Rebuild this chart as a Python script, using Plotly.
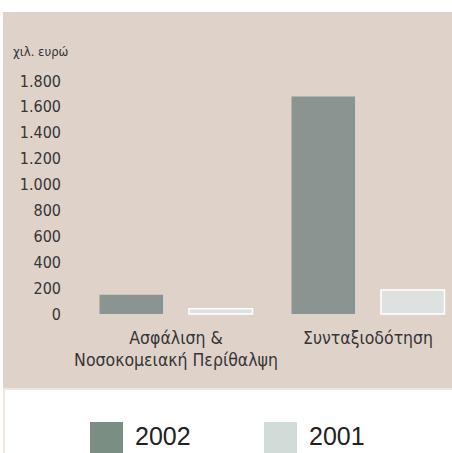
import plotly.graph_objects as go

# ---- data ----
categories = ["Ασφάλιση &<br>Νοσοκομειακή Περίθαλψη", "Συνταξιοδότηση"]
series_names = ["2002", "2001"]
values_2002 = [150, 1680]
values_2001 = [40, 185]
tick_values = [0, 200, 400, 600, 800, 1000, 1200, 1400, 1600, 1800]
tick_labels = ["0", "200", "400", "600", "800", "1.000", "1.200", "1.400", "1.600", "1.800"]
unit_label = "χιλ. ευρώ"

# ---- layout constants ----
WIDTH, HEIGHT = 452, 453
L, R, T = 66, 0, 68
PH = 259
B = HEIGHT - T - PH
PW = WIDTH - L - R

BG = "#dfd2c9"
C2002 = "#8a9490"
C2001 = "#dde1e0"
LEG2002 = "#7a8e84"
LEG2001 = "#d1dcd9"
TXT = "#363636"
FONT = "DejaVu Sans Condensed, DejaVu Sans, sans-serif"


def px_x(p):
    return (p - L) / PW


def px_y(p):
    return (T + PH - p) / PH


fig = go.Figure()
fig.add_trace(go.Bar(x=[0, 1], y=values_2002, name=series_names[0],
                     marker=dict(color=C2002, line=dict(width=0))))
fig.add_trace(go.Bar(x=[0, 1], y=values_2001, name=series_names[1],
                     marker=dict(color=C2001, line=dict(color="white", width=1.5))))

x0 = -(176 - L) / 192
x1 = x0 + PW / 192

shapes = [
    dict(type="rect", xref="paper", yref="paper", x0=px_x(3), x1=px_x(453),
         y0=px_y(388), y1=px_y(12), fillcolor=BG, line=dict(width=0), layer="below"),
    dict(type="rect", xref="paper", yref="paper", x0=px_x(3), x1=px_x(453),
         y0=px_y(390), y1=px_y(388), fillcolor="#efe6e0", line=dict(width=0), layer="below"),
    dict(type="rect", xref="paper", yref="paper", x0=px_x(3), x1=px_x(5),
         y0=px_y(454), y1=px_y(388), fillcolor="#efe6e0", line=dict(width=0), layer="below"),
    dict(type="rect", xref="paper", yref="paper", x0=px_x(90), x1=px_x(123),
         y0=px_y(456), y1=px_y(422), fillcolor=LEG2002, line=dict(width=0)),
    dict(type="rect", xref="paper", yref="paper", x0=px_x(264), x1=px_x(297),
         y0=px_y(456), y1=px_y(422), fillcolor=LEG2001, line=dict(width=0)),
]

annotations = [
    dict(text=unit_label, xref="paper", yref="paper", x=px_x(11), y=px_y(52),
         xanchor="left", yanchor="middle", align="left", showarrow=False,
         font=dict(family=FONT, size=13, color=TXT)),
    dict(text=series_names[0], xref="paper", yref="paper", x=px_x(133), y=px_y(436),
         xanchor="left", yanchor="middle", align="left", showarrow=False,
         font=dict(family="Liberation Sans, Arial, sans-serif", size=25, color="#222222")),
    dict(text=series_names[1], xref="paper", yref="paper", x=px_x(307), y=px_y(436),
         xanchor="left", yanchor="middle", align="left", showarrow=False,
         font=dict(family="Liberation Sans, Arial, sans-serif", size=25, color="#222222")),
]

fig.update_layout(
    width=WIDTH, height=HEIGHT,
    margin=dict(l=L, r=R, t=T, b=B, pad=0),
    paper_bgcolor="white", plot_bgcolor="rgba(0,0,0,0)",
    barmode="group", bargap=0.068, bargroupgap=0.29,
    showlegend=False,
    shapes=shapes, annotations=annotations,
    xaxis=dict(range=[x0, x1], tickvals=[0, 1], ticktext=categories,
               showgrid=False, zeroline=False, showline=False, ticks="",
               ticklabelstandoff=-2,
               tickfont=dict(family=FONT, size=17.5, color=TXT)),
    yaxis=dict(range=[-100, 1900], tickvals=tick_values, ticktext=tick_labels,
               showgrid=False, zeroline=False, showline=False, ticks="",
               ticklabelstandoff=4,
               tickfont=dict(family=FONT, size=16, color=TXT)),
)

post = """
document.body.style.margin = '0';
document.body.style.overflow = 'hidden';
"""

fig.write_html("out.html", post_script=post, config={"displayModeBar": False})
